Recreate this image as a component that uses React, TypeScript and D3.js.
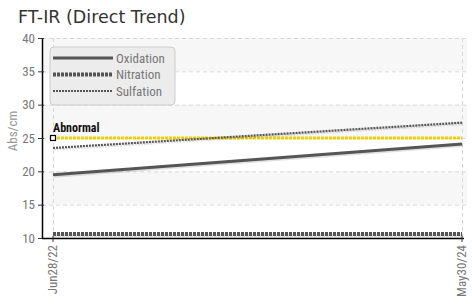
import { useEffect, useRef } from 'react';
import * as d3 from 'd3';

const dates = ['Jun28/22', 'May30/24'];
const oxidation = [19.5, 24.1];
const nitration = [10.6, 10.6];
const sulfation = [23.5, 27.3];
const abnormal = 25;
const yTicks = [10, 15, 20, 25, 30, 35, 40];

const series = [
  { name: 'Oxidation', values: oxidation, width: 3, dash: null },
  { name: 'Nitration', values: nitration, width: 4, dash: '3,1' },
  { name: 'Sulfation', values: sulfation, width: 2.2, dash: '2,1' },
];

const NARROW = '"Liberation Sans Narrow", "Roboto Condensed", "Liberation Sans", sans-serif';

export default function App() {
  const svgRef = useRef<SVGSVGElement>(null);

  useEffect(() => {
    const svg = d3.select(svgRef.current);
    svg.selectAll('*').remove();

    const width = 472;
    const height = 305;
    const plot = { left: 42, right: 467, top: 38, bottom: 238 };

    const x = d3.scalePoint<string>().domain(dates).range([53, 462]);
    const y = d3.scaleLinear().domain([10, 40]).range([plot.bottom, plot.top]);

    svg.attr('viewBox', `0 0 ${width} ${height}`);

    // title
    svg.append('text')
      .attr('x', 18).attr('y', 23)
      .attr('font-family', '"DejaVu Sans", sans-serif')
      .attr('font-size', 17.5)
      .attr('fill', '#333')
      .text('FT-IR (Direct Trend)');

    // alternating bands
    const bands = d3.pairs(yTicks);
    svg.append('g')
      .selectAll('rect')
      .data(bands)
      .join('rect')
      .attr('x', plot.left)
      .attr('width', plot.right - plot.left)
      .attr('y', d => y(d[1]))
      .attr('height', d => y(d[0]) - y(d[1]))
      .attr('fill', (_, i) => (i % 2 === 0 ? '#ffffff' : '#f7f7f7'));

    // grid
    const grid = svg.append('g').attr('stroke', '#d8d8d8').attr('stroke-dasharray', '4,3').attr('stroke-width', 1);
    grid.selectAll('line.h')
      .data(yTicks.slice(1))
      .join('line')
      .attr('class', 'h')
      .attr('x1', plot.left).attr('x2', plot.right)
      .attr('y1', d => y(d) + 0.5).attr('y2', d => y(d) + 0.5);
    grid.selectAll('line.v')
      .data(dates)
      .join('line')
      .attr('class', 'v')
      .attr('x1', d => x(d)! + 0.5).attr('x2', d => x(d)! + 0.5)
      .attr('y1', plot.top).attr('y2', plot.bottom);

    // abnormal line
    const xs = x.range();
    svg.append('line')
      .attr('x1', xs[0]).attr('x2', xs[1])
      .attr('y1', y(abnormal)).attr('y2', y(abnormal))
      .attr('stroke', '#f2cf00')
      .attr('stroke-width', 3)
      .attr('stroke-dasharray', '3,1');
    svg.append('rect')
      .attr('x', xs[0] - 2.5).attr('y', y(abnormal) - 2.5)
      .attr('width', 5).attr('height', 5)
      .attr('fill', '#fff').attr('stroke', '#000').attr('stroke-width', 1.2);
    svg.append('text')
      .attr('x', xs[0]).attr('y', y(abnormal) - 6)
      .attr('font-family', NARROW)
      .attr('font-size', 12)
      .attr('font-weight', 'bold')
      .attr('fill', '#111')
      .text('Abnormal');

    // series
    const line = d3.line<number>()
      .x((_, i) => x(dates[i])!)
      .y(d => y(d));
    const sg = svg.append('g');
    for (const s of series) {
      sg.append('path')
        .attr('d', line(s.values))
        .attr('fill', 'none')
        .attr('stroke', 'rgba(0,0,0,0.12)')
        .attr('stroke-width', s.width)
        .attr('stroke-dasharray', s.dash)
        .attr('transform', 'translate(1,1.5)');
      sg.append('path')
        .attr('d', line(s.values))
        .attr('fill', 'none')
        .attr('stroke', '#555')
        .attr('stroke-width', s.width)
        .attr('stroke-dasharray', s.dash);
    }

    // y axis
    svg.append('g')
      .attr('transform', `translate(${plot.left},0)`)
      .call(d3.axisLeft(y).tickValues(yTicks).tickSize(4).tickPadding(3))
      .call(g => g.select('.domain').attr('stroke', '#000').attr('stroke-width', 1.5).attr('d', `M0.5,${plot.top}V${plot.bottom}`))
      .call(g => g.selectAll('.tick line').attr('x2', -4).attr('x1', 2).attr('stroke', '#333'))
      .call(g => g.selectAll('.tick text').attr('font-family', NARROW).attr('font-size', 13).attr('fill', '#777'));

    // x axis
    svg.append('line')
      .attr('x1', plot.left).attr('x2', 464)
      .attr('y1', plot.bottom + 0.5).attr('y2', plot.bottom + 0.5)
      .attr('stroke', '#000').attr('stroke-width', 1.5);
    const xg = svg.append('g');
    xg.selectAll('line')
      .data(dates)
      .join('line')
      .attr('x1', d => x(d)!).attr('x2', d => x(d)!)
      .attr('y1', plot.bottom - 2).attr('y2', plot.bottom + 4)
      .attr('stroke', '#333');
    xg.selectAll('text')
      .data(dates)
      .join('text')
      .attr('transform', d => `translate(${x(d)! + 4},${plot.bottom + 7}) rotate(-90)`)
      .attr('text-anchor', 'end')
      .attr('font-family', NARROW)
      .attr('font-size', 13)
      .attr('fill', '#777')
      .text(d => d);

    // y label
    svg.append('text')
      .attr('transform', `translate(17,131) rotate(-90)`)
      .attr('text-anchor', 'middle')
      .attr('font-family', NARROW)
      .attr('font-size', 13)
      .attr('fill', '#999')
      .text('Abs/cm');

    // legend
    const lg = svg.append('g').attr('transform', 'translate(50,47)');
    lg.append('rect')
      .attr('width', 125).attr('height', 58)
      .attr('rx', 4)
      .attr('fill', '#ececec')
      .attr('stroke', '#ccc');
    series.forEach((s, i) => {
      const ly = 11 + i * 16.5;
      lg.append('line')
        .attr('x1', 3).attr('x2', 63)
        .attr('y1', ly).attr('y2', ly)
        .attr('stroke', '#555')
        .attr('stroke-width', s.width)
        .attr('stroke-dasharray', s.dash);
      lg.append('text')
        .attr('x', 66).attr('y', ly + 4.5)
        .attr('font-family', NARROW)
        .attr('font-size', 13)
        .attr('fill', '#777')
        .text(s.name);
    });
  }, []);

  return (
    <svg
      ref={svgRef}
      width={472}
      height={305}
      style={{ display: 'block', position: 'absolute', left: 0, top: 0 }}
    />
  );
}
